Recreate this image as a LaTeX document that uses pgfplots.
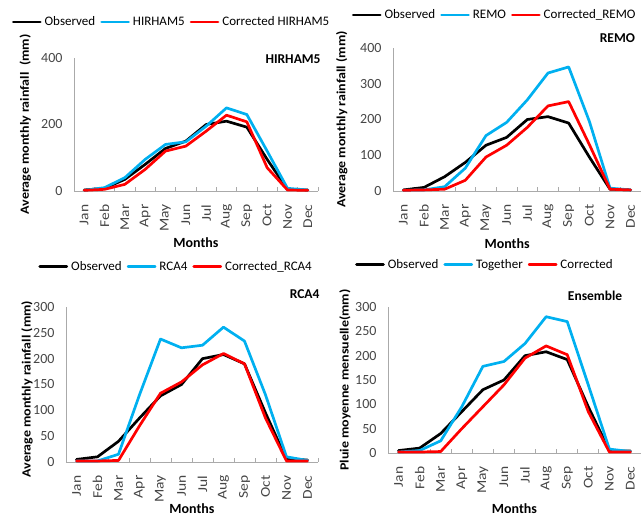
\documentclass[border=0pt]{standalone}
\usepackage{graphicx}
\usepackage{pgfplots}
\pgfplotsset{compat=1.18}
\usepackage{fontspec}
\setmainfont{Carlito}
\definecolor{modc}{RGB}{0,176,240}
\definecolor{corc}{RGB}{255,0,0}
\definecolor{axgray}{RGB}{170,170,170}
\definecolor{tickgray}{RGB}{70,70,70}
\newcommand{\ml}[1]{\scalebox{1.15}[1]{#1}}
\newcommand{\yl}[1]{\scalebox{1.12}[1]{#1}}
\tikzset{
 obs/.style={black},
 mod/.style={modc},
 cor/.style={corc},
 ttl/.style={anchor=east, font=\bfseries\fontsize{13.5}{13.5}\selectfont},
}
\pgfplotsset{
 panel/.style={
  scale only axis, anchor=south west, clip=false,
  xmin=-0.5, xmax=11.5, ymin=0,
  axis x line*=bottom, axis y line*=left,
  axis line style={axgray, line width=0.9pt, -},
  xtick={0,...,11},
  xticklabels={\ml{Jan},\ml{Feb},\ml{Mar},\ml{Apr},\ml{May},\ml{Jun},\ml{Jul},\ml{Aug},\ml{Sep},\ml{Oct},\ml{Nov},\ml{Dec}},
  xticklabel style={rotate=90, anchor=east, font=\fontsize{13.5}{13.5}\selectfont, color=tickgray},
  yticklabel style={font=\fontsize{14}{14}\selectfont, color=tickgray},
  major tick length=0pt,
  minor xtick={-0.5,0.5,...,11.5},
  minor tick length=4pt,
  tick align=inside,
  minor tick style={axgray, line width=0.9pt},
  xticklabel shift=10pt,
  yticklabel shift=8pt,
  /pgf/number format/assume math mode=true,
  xlabel={Months},
  xlabel style={font=\bfseries\fontsize{14}{14}\selectfont},
  ylabel style={font=\bfseries\fontsize{12.5}{12.5}\selectfont},
  legend columns=3,
  legend style={draw=none, fill=none, font=\fontsize{13}{13}\selectfont, anchor=center, inner sep=0pt,
    /tikz/every odd column/.append style={column sep=1pt},
    /tikz/every even column/.append style={column sep=3pt}},
  legend image code/.code={\draw[##1] (0pt,0pt) -- (27pt,0pt);},
  every axis plot/.append style={line width=2.7pt, line join=round, line cap=round},
 },
}
\begin{document}
\begin{tikzpicture}
\useasboundingbox (0,0) rectangle (641pt,-518pt);
% ---------------- Panel 1: HIRHAM5
\begin{axis}[panel, at={(74pt,-191pt)}, width=244pt, height=133pt,
  ymax=400, ytick={0,200,400},
  xlabel style={at={(axis description cs:0.5,-0.385)}, anchor=center},
  ylabel style={at={(axis description cs:-0.20,0.5)}, anchor=center},
  ylabel={\yl{Average monthly rainfall\ \ (mm)}},
  legend style={at={(axis description cs:0.40,1.27)}}]
\addplot[obs] coordinates {(0,3)(1,8)(2,35)(3,80)(4,128)(5,150)(6,200)(7,210)(8,192)(9,95)(10,5)(11,3)};
\addplot[mod] coordinates {(0,2)(1,10)(2,40)(3,95)(4,140)(5,148)(6,195)(7,250)(8,230)(9,120)(10,8)(11,3)};
\addplot[cor] coordinates {(0,2)(1,5)(2,20)(3,65)(4,120)(5,135)(6,180)(7,228)(8,208)(9,70)(10,3)(11,2)};
\legend{Observed,HIRHAM5,Corrected HIRHAM5}
\node[ttl] at (axis description cs:1.025,0.99) {HIRHAM5};
\end{axis}
% ---------------- Panel 2: REMO
\begin{axis}[panel, at={(393pt,-191pt)}, width=248pt, height=143pt,
  ymax=400, ytick={0,100,...,400},
  xlabel style={at={(axis description cs:0.46,-0.365)}, anchor=center},
  ylabel style={at={(axis description cs:-0.206,0.5)}, anchor=center},
  ylabel={\yl{Average monthly rainfall (mm)}},
  legend style={at={(axis description cs:0.41,1.23)}}]
\addplot[obs] coordinates {(0,3)(1,10)(2,40)(3,80)(4,128)(5,150)(6,200)(7,208)(8,190)(9,95)(10,5)(11,3)};
\addplot[mod] coordinates {(0,2)(1,3)(2,12)(3,64)(4,155)(5,192)(6,255)(7,330)(8,347)(9,195)(10,8)(11,3)};
\addplot[cor] coordinates {(0,2)(1,3)(2,5)(3,30)(4,95)(5,128)(6,178)(7,238)(8,250)(9,130)(10,5)(11,3)};
\legend{Observed,REMO,Corrected\_REMO}
\node[ttl] at (axis description cs:0.99,1.07) {REMO};
\end{axis}
% ---------------- Panel 3: RCA4
\begin{axis}[panel, at={(66pt,-462pt)}, width=252pt, height=155pt,
  ymax=300, ytick={0,50,...,300},
  xlabel style={at={(axis description cs:0.5,-0.30)}, anchor=center},
  ylabel style={at={(axis description cs:-0.155,0.47)}, anchor=center},
  ylabel={\yl{Average monthly rainfall (mm)}},
  legend style={at={(axis description cs:0.437,1.26)}}]
\addplot[obs] coordinates {(0,5)(1,10)(2,40)(3,85)(4,128)(5,150)(6,200)(7,208)(8,190)(9,95)(10,5)(11,4)};
\addplot[mod] coordinates {(0,2)(1,2)(2,15)(3,130)(4,238)(5,221)(6,226)(7,261)(8,234)(9,130)(10,10)(11,3)};
\addplot[cor] coordinates {(0,2)(1,2)(2,3)(3,70)(4,133)(5,155)(6,188)(7,210)(8,190)(9,85)(10,2)(11,2)};
\legend{Observed,RCA4,Corrected\_RCA4}
\node[ttl] at (axis description cs:1.02,1.08) {RCA4};
\end{axis}
% ---------------- Panel 4: Ensemble
\begin{axis}[panel, at={(388pt,-453pt)}, width=253pt, height=146pt,
  ymax=300, ytick={0,50,...,300},
  xlabel style={at={(axis description cs:0.5,-0.38)}, anchor=center},
  ylabel style={at={(axis description cs:-0.17,0.5)}, anchor=center},
  ylabel={\yl{Pluie moyenne mensuelle(mm)}},
  legend style={at={(axis description cs:0.383,1.29)}}]
\addplot[obs] coordinates {(0,5)(1,10)(2,40)(3,85)(4,130)(5,150)(6,200)(7,208)(8,192)(9,95)(10,5)(11,4)};
\addplot[mod] coordinates {(0,2)(1,5)(2,25)(3,95)(4,178)(5,188)(6,225)(7,280)(8,270)(9,140)(10,8)(11,3)};
\addplot[cor] coordinates {(0,2)(1,2)(2,3)(3,50)(4,95)(5,140)(6,195)(7,220)(8,202)(9,85)(10,2)(11,2)};
\legend{Observed,Together,Corrected}
\node[ttl] at (axis description cs:0.94,1.08) {Ensemble};
\end{axis}
\end{tikzpicture}
\end{document}
